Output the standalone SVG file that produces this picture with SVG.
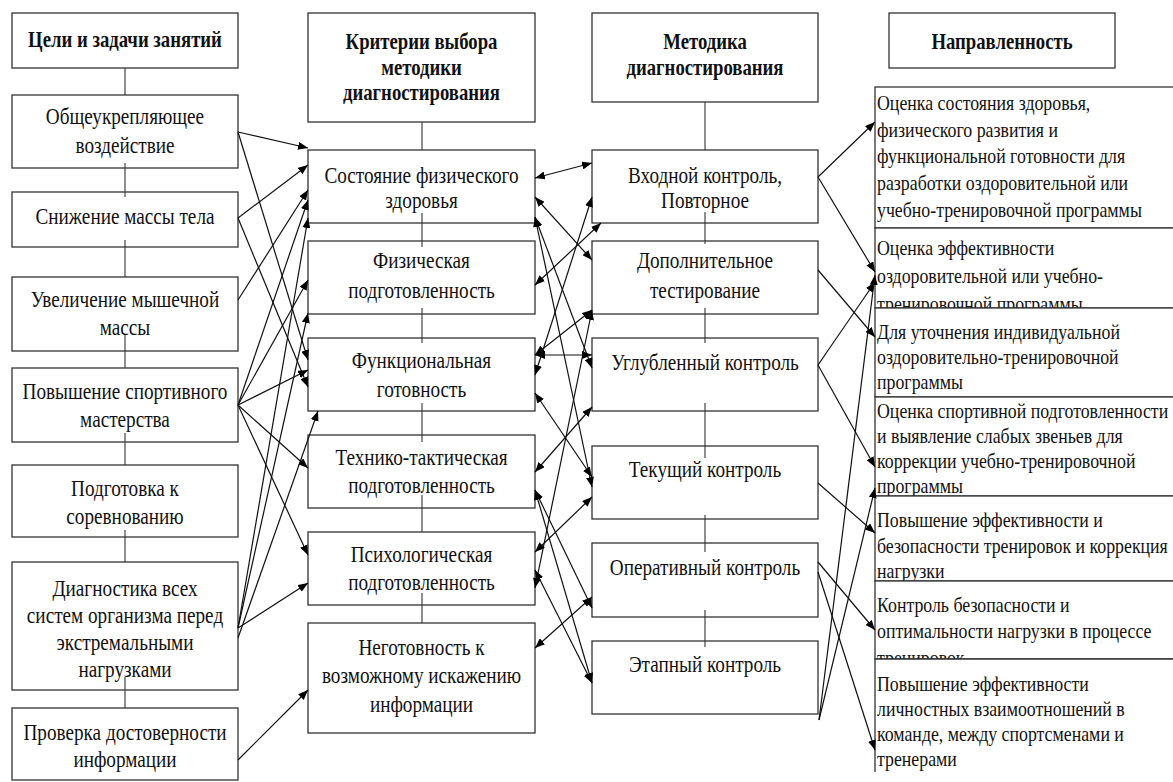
<svg xmlns="http://www.w3.org/2000/svg" width="1173" height="782" viewBox="0 0 1173 782">
<style>
.box{fill:#fff;stroke:#333;stroke-width:1.3}
.t{font-family:"Liberation Serif","Times New Roman",serif;font-size:24px;fill:#111;text-anchor:middle}
.r{font-family:"Liberation Serif","Times New Roman",serif;font-size:22px;fill:#111;text-anchor:start}
.b{font-weight:bold}
.ln{fill:none;stroke:#111;stroke-width:1.2}
.sp{fill:none;stroke:#333;stroke-width:1.1}
.a1{marker-end:url(#ah)}
.a2{marker-start:url(#ah);marker-end:url(#ah)}
</style>
<defs>
<marker id="ah" viewBox="0 0 10 8" refX="10" refY="4" markerWidth="10" markerHeight="8" markerUnits="userSpaceOnUse" orient="auto-start-reverse"><path d="M0,0 L10,4 L0,8 z" fill="#000"/></marker>
</defs>
<rect width="1173" height="782" fill="#fff"/>

<!-- Column 1 -->
<g id="h1"><rect class="box" x="12" y="13" width="226" height="55"/><text class="t b" transform="translate(125 0) scale(.78 1)"><tspan x="0" y="47">Цели и задачи занятий</tspan></text></g>
<g id="b1"><rect class="box" x="12" y="95" width="226" height="73"/><text class="t" transform="translate(125 0) scale(.8 1)"><tspan x="0" y="124">Общеукрепляющее</tspan><tspan x="0" y="153">воздействие</tspan></text></g>
<g id="b2"><rect class="box" x="12" y="192" width="226" height="55"/><text class="t" transform="translate(125 0) scale(.8 1)"><tspan x="0" y="224">Снижение массы тела</tspan></text></g>
<g id="b3"><rect class="box" x="12" y="277" width="226" height="74"/><text class="t" transform="translate(125 0) scale(.8 1)"><tspan x="0" y="307">Увеличение мышечной</tspan><tspan x="0" y="335">массы</tspan></text></g>
<g id="b4"><rect class="box" x="12" y="368" width="226" height="74"/><text class="t" transform="translate(125 0) scale(.8 1)"><tspan x="0" y="399">Повышение спортивного</tspan><tspan x="0" y="427">мастерства</tspan></text></g>
<g id="b5"><rect class="box" x="12" y="465" width="226" height="72"/><text class="t" transform="translate(125 0) scale(.8 1)"><tspan x="0" y="496">Подготовка к</tspan><tspan x="0" y="524">соревнованию</tspan></text></g>
<g id="b6"><rect class="box" x="12" y="562" width="226" height="128"/><text class="t" transform="translate(125 0) scale(.8 1)"><tspan x="0" y="596">Диагностика всех</tspan><tspan x="0" y="623">систем организма перед</tspan><tspan x="0" y="650">экстремальными</tspan><tspan x="0" y="677">нагрузками</tspan></text></g>
<g id="b7"><rect class="box" x="12" y="708" width="226" height="72"/><text class="t" transform="translate(125 0) scale(.8 1)"><tspan x="0" y="740">Проверка достоверности</tspan><tspan x="0" y="767">информации</tspan></text></g>

<!-- Column 2 -->
<g id="h2"><rect class="box" x="308" y="13" width="227" height="109"/><text class="t b" transform="translate(421.5 0) scale(.78 1)"><tspan x="0" y="49">Критерии выбора</tspan><tspan x="0" y="75">методики</tspan><tspan x="0" y="100">диагностирования</tspan></text></g>
<g id="c1"><rect class="box" x="308" y="150" width="227" height="73"/><text class="t" transform="translate(421.5 0) scale(.8 1)"><tspan x="0" y="183">Состояние физического</tspan><tspan x="0" y="208">здоровья</tspan></text></g>
<g id="c2"><rect class="box" x="308" y="241" width="227" height="73"/><text class="t" transform="translate(421.5 0) scale(.8 1)"><tspan x="0" y="268">Физическая</tspan><tspan x="0" y="298">подготовленность</tspan></text></g>
<g id="c3"><rect class="box" x="308" y="338" width="227" height="73"/><text class="t" transform="translate(421.5 0) scale(.8 1)"><tspan x="0" y="368">Функциональная</tspan><tspan x="0" y="397">готовность</tspan></text></g>
<g id="c4"><rect class="box" x="308" y="435" width="227" height="73"/><text class="t" transform="translate(421.5 0) scale(.8 1)"><tspan x="0" y="465">Технико-тактическая</tspan><tspan x="0" y="493">подготовленность</tspan></text></g>
<g id="c5"><rect class="box" x="308" y="532" width="227" height="73"/><text class="t" transform="translate(421.5 0) scale(.8 1)"><tspan x="0" y="562">Психологическая</tspan><tspan x="0" y="590">подготовленность</tspan></text></g>
<g id="c6"><rect class="box" x="308" y="623" width="227" height="110"/><text class="t" transform="translate(421.5 0) scale(.8 1)"><tspan x="0" y="655">Неготовность к</tspan><tspan x="0" y="683">возможному искажению</tspan><tspan x="0" y="712">информации</tspan></text></g>

<!-- Column 3 -->
<g id="h3"><rect class="box" x="592" y="13" width="226" height="89"/><text class="t b" transform="translate(705 0) scale(.78 1)"><tspan x="0" y="49">Методика</tspan><tspan x="0" y="75">диагностирования</tspan></text></g>
<g id="m1"><rect class="box" x="592" y="150" width="226" height="73"/><text class="t" transform="translate(705 0) scale(.8 1)"><tspan x="0" y="183">Входной контроль,</tspan><tspan x="0" y="208">Повторное</tspan></text></g>
<g id="m2"><rect class="box" x="592" y="241" width="226" height="73"/><text class="t" transform="translate(705 0) scale(.8 1)"><tspan x="0" y="268">Дополнительное</tspan><tspan x="0" y="298">тестирование</tspan></text></g>
<g id="m3"><rect class="box" x="592" y="338" width="226" height="73"/><text class="t" transform="translate(705 0) scale(.8 1)"><tspan x="0" y="370">Углубленный контроль</tspan></text></g>
<g id="m4"><rect class="box" x="592" y="446" width="226" height="73"/><text class="t" transform="translate(705 0) scale(.8 1)"><tspan x="0" y="477">Текущий контроль</tspan></text></g>
<g id="m5"><rect class="box" x="592" y="543" width="226" height="74"/><text class="t" transform="translate(705 0) scale(.8 1)"><tspan x="0" y="575">Оперативный контроль</tspan></text></g>
<g id="m6"><rect class="box" x="592" y="641" width="226" height="73"/><text class="t" transform="translate(705 0) scale(.8 1)"><tspan x="0" y="672">Этапный контроль</tspan></text></g>

<!-- Column 4 -->
<g id="h4"><rect class="box" x="889" y="13" width="226" height="55"/><text class="t b" transform="translate(1002 0) scale(.78 1)"><tspan x="0" y="49">Направленность</tspan></text></g>
<g id="d1"><rect class="box" x="875" y="87" width="400" height="141"/><text class="r" transform="translate(877 0) scale(.81 1)"><tspan x="0" y="110">Оценка состояния здоровья,</tspan><tspan x="0" y="137">физического развития и</tspan><tspan x="0" y="163">функциональной готовности для</tspan><tspan x="0" y="190">разработки оздоровительной или</tspan><tspan x="0" y="217">учебно-тренировочной программы</tspan></text></g>
<g id="d2"><rect class="box" x="875" y="228" width="400" height="80"/><text class="r" transform="translate(877 0) scale(.81 1)"><tspan x="0" y="255">Оценка эффективности</tspan><tspan x="0" y="283">оздоровительной или учебно-</tspan><tspan x="0" y="311">тренировочной программы</tspan></text></g>
<g id="d3"><rect class="box" x="875" y="308" width="400" height="89"/><text class="r" transform="translate(877 0) scale(.81 1)"><tspan x="0" y="339">Для уточнения индивидуальной</tspan><tspan x="0" y="364">оздоровительно-тренировочной</tspan><tspan x="0" y="389">программы</tspan></text></g>
<g id="d4"><rect class="box" x="875" y="397" width="400" height="99"/><text class="r" transform="translate(877 0) scale(.81 1)"><tspan x="0" y="418">Оценка спортивной подготовленности</tspan><tspan x="0" y="443">и выявление слабых звеньев для</tspan><tspan x="0" y="468">коррекции учебно-тренировочной</tspan><tspan x="0" y="493">программы</tspan></text></g>
<g id="d5"><rect class="box" x="875" y="496" width="400" height="85"/><text class="r" transform="translate(877 0) scale(.81 1)"><tspan x="0" y="527">Повышение эффективности и</tspan><tspan x="0" y="553">безопасности тренировок и коррекция</tspan><tspan x="0" y="578">нагрузки</tspan></text></g>
<g id="d6"><rect class="box" x="875" y="581" width="400" height="78"/><text class="r" transform="translate(877 0) scale(.81 1)"><tspan x="0" y="612">Контроль безопасности и</tspan><tspan x="0" y="638">оптимальности нагрузки в процессе</tspan><tspan x="0" y="665">тренировок</tspan></text></g>
<g id="d7"><rect x="875" y="659" width="400" height="123" fill="#fff"/><path class="sp" d="M1200,659 H875 V772" style="stroke-width:1.3"/><text class="r" transform="translate(877 0) scale(.81 1)"><tspan x="0" y="691">Повышение эффективности</tspan><tspan x="0" y="716">личностных взаимоотношений в</tspan><tspan x="0" y="741">команде, между спортсменами и</tspan><tspan x="0" y="766">тренерами</tspan></text></g>

<g id="connectors">
<!-- spines -->
<path class="sp" d="M125,68V95 M125,163V197 M125,240V277 M125,335V368 M125,433V465 M125,530V562 M125,677V708"/>
<path class="sp" d="M422,122V150 M422,213V247 M422,308V343 M422,403V442 M422,495V532 M422,593V623"/>
<path class="sp" d="M705,102V150 M705,212V244 M705,308V343 M705,403V458 M705,515V552 M705,610V647"/>
<!-- column 1 to column 2 -->
<path class="ln a1" d="M238,132L308,148"/>
<path class="ln a1" d="M238,132L308,360"/>
<path class="ln a1" d="M238,218L308,165"/>
<path class="ln a1" d="M238,218L308,387"/>
<path class="ln a1" d="M238,300L308,190"/>
<path class="ln a1" d="M238,405L308,200"/>
<path class="ln a1" d="M238,405L308,280"/>
<path class="ln a1" d="M238,405L308,370"/>
<path class="ln a1" d="M238,405L308,468"/>
<path class="ln a1" d="M238,405L308,555"/>
<path class="ln a1" d="M238,628L308,218"/>
<path class="ln a1" d="M238,628L308,313"/>
<path class="ln a1" d="M238,638L318,411"/>
<path class="ln a1" d="M238,628L308,583"/>
<path class="ln a1" d="M238,760L308,690"/>
<!-- column 2 to column 3 -->
<path class="ln a2" d="M535,178L592,163"/>
<path class="ln a2" d="M535,197L592,260"/>
<path class="ln a2" d="M535,217L592,368"/>
<path class="ln a2" d="M535,217L592,487"/>
<path class="ln a2" d="M535,285L601,223"/>
<path class="ln a2" d="M535,355L592,355"/>
<path class="ln a2" d="M535,355L592,310"/>
<path class="ln a2" d="M535,375L592,197"/>
<path class="ln a2" d="M535,393L592,477"/>
<path class="ln a2" d="M535,472L592,407"/>
<path class="ln a2" d="M535,490L592,683"/>
<path class="ln a2" d="M535,490L592,608"/>
<path class="ln a2" d="M535,552L592,497"/>
<path class="ln a2" d="M535,570L592,683"/>
<path class="ln a2" d="M535,588L592,310"/>
<path class="ln a2" d="M535,648L592,597"/>
<!-- column 3 to column 4 -->
<path class="ln a1" d="M818,177L875,122"/>
<path class="ln a1" d="M818,177L875,272"/>
<path class="ln a1" d="M818,270L875,337"/>
<path class="ln a1" d="M818,365L875,282"/>
<path class="ln a1" d="M818,365L875,467"/>
<path class="ln a1" d="M818,483L875,533"/>
<path class="ln a1" d="M818,562L875,630"/>
<path class="ln a1" d="M818,572L875,750"/>
<path class="ln a1" d="M819,720L875,275"/>
<path class="ln a1" d="M819,720L875,488"/>
</g>
</svg>
